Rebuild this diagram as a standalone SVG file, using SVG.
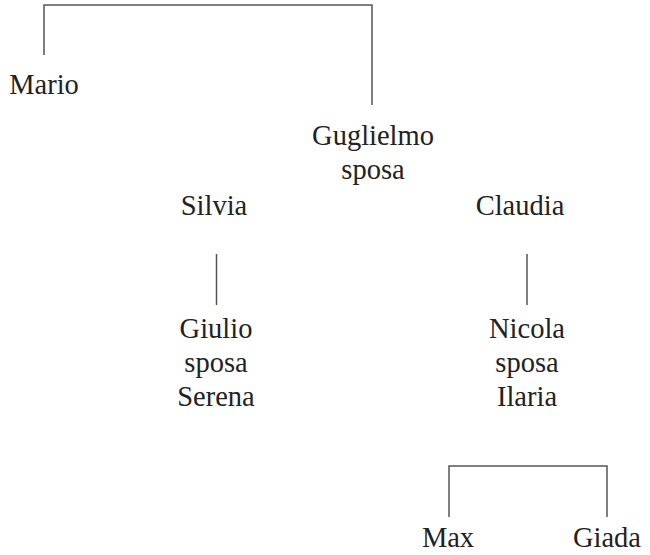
<svg xmlns="http://www.w3.org/2000/svg" width="650" height="555" viewBox="0 0 650 555">
<style>
text{font-family:'Liberation Serif','DejaVu Serif',serif;font-size:28.5px;fill:#222;text-anchor:middle}
.c{fill:none;stroke:#555;stroke-width:1.5}
</style>
<rect width="650" height="555" fill="#fff"/>
<g id="connectors">
<path class="c" d="M44,55 V5 H372 V105"/>
<path class="c" d="M216.5,254 V305"/>
<path class="c" d="M527,254 V305"/>
<path class="c" d="M449,517 V466 H607 V517"/>
</g>
<g id="mario"><text x="44" y="94">Mario</text></g>
<g id="guglielmo"><text x="373" y="145">Guglielmo</text><text x="373" y="179">sposa</text></g>
<g id="silvia"><text x="214" y="215">Silvia</text></g>
<g id="claudia"><text x="520" y="215">Claudia</text></g>
<g id="giulio"><text x="216" y="338">Giulio</text><text x="216" y="372">sposa</text><text x="216" y="406">Serena</text></g>
<g id="nicola"><text x="527" y="338">Nicola</text><text x="527" y="372">sposa</text><text x="527" y="406">Ilaria</text></g>
<g id="max"><text x="448" y="547">Max</text></g>
<g id="giada"><text x="607" y="547">Giada</text></g>
</svg>
